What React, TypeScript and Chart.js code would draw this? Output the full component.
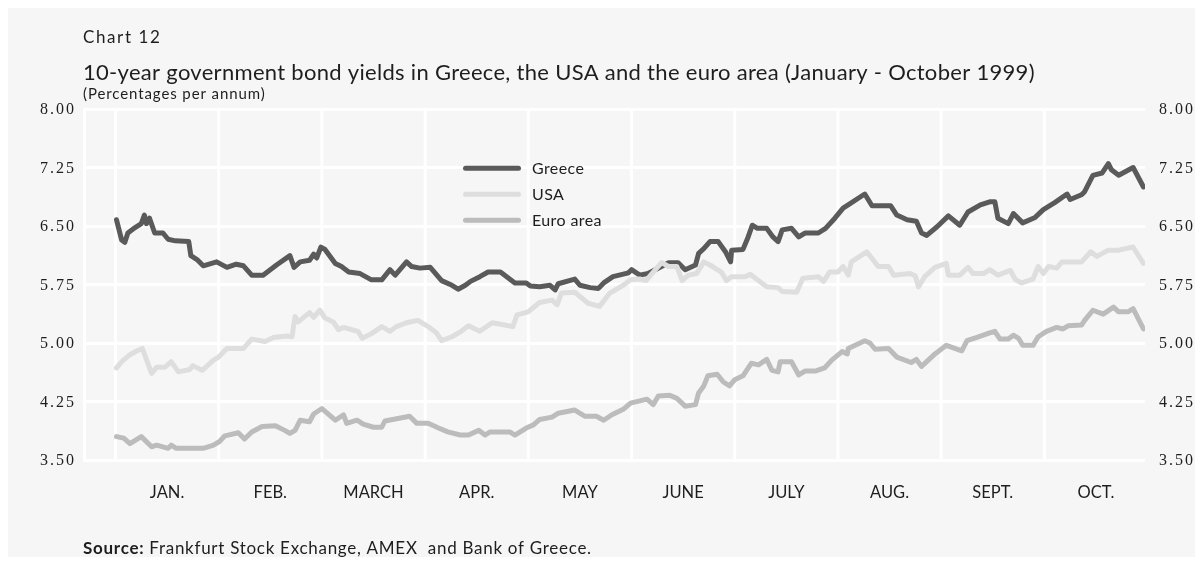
import { useEffect, useRef } from "react";
import { Chart, registerables } from "chart.js";

Chart.register(...registerables);

const months = ["JAN.", "FEB.", "MARCH", "APR.", "MAY", "JUNE", "JULY", "AUG.", "SEPT.", "OCT."];
const yTicks = [3.5, 4.25, 5, 5.75, 6.5, 7.25, 8];

// x = position in months (0 = start of January, 1 = start of February, ...)
const greeceX = [
  0.01, 0.06, 0.09, 0.12, 0.19, 0.25, 0.28, 0.30, 0.33, 0.38,
  0.46, 0.51, 0.58, 0.71, 0.73, 0.79, 0.85, 0.98, 1.08, 1.17,
  1.24, 1.32, 1.43, 1.56, 1.69, 1.73, 1.79, 1.88, 1.92, 1.95,
  1.99, 2.03, 2.13, 2.19, 2.26, 2.37, 2.48, 2.58, 2.66, 2.71,
  2.82, 2.87, 2.95, 3.05, 3.16, 3.26, 3.32, 3.39, 3.44, 3.53,
  3.61, 3.73, 3.87, 3.98, 4.02, 4.11, 4.21, 4.26, 4.29, 4.45,
  4.50, 4.60, 4.68, 4.73, 4.82, 4.97, 5.00, 5.08, 5.16, 5.29,
  5.36, 5.45, 5.52, 5.62, 5.65, 5.70, 5.76, 5.84, 5.91, 5.96,
  5.97, 6.08, 6.13, 6.17, 6.22, 6.31, 6.37, 6.42, 6.46, 6.55,
  6.62, 6.68, 6.81, 6.88, 6.97, 7.05, 7.11, 7.26, 7.33, 7.51,
  7.57, 7.67, 7.76, 7.81, 7.86, 7.96, 8.07, 8.18, 8.26, 8.38,
  8.47, 8.52, 8.55, 8.65, 8.70, 8.79, 8.91, 8.99, 9.10, 9.22,
  9.25, 9.36, 9.39, 9.47, 9.56, 9.62, 9.65, 9.72, 9.86, 9.96,
];
const greeceY = [
  6.58, 6.32, 6.29, 6.41, 6.48, 6.53, 6.64, 6.53, 6.60, 6.41,
  6.41, 6.33, 6.31, 6.30, 6.12, 6.07, 5.99, 6.04, 5.97, 6.01,
  5.99, 5.87, 5.87, 6.00, 6.12, 5.97, 6.04, 6.06, 6.14, 6.09,
  6.23, 6.20, 6.02, 5.98, 5.91, 5.89, 5.81, 5.81, 5.94, 5.87,
  6.04, 5.98, 5.96, 5.97, 5.80, 5.74, 5.69, 5.74, 5.79, 5.85,
  5.91, 5.91, 5.77, 5.77, 5.73, 5.72, 5.74, 5.68, 5.76, 5.82,
  5.74, 5.71, 5.70, 5.77, 5.85, 5.90, 5.94, 5.87, 5.89, 5.98,
  6.03, 6.03, 5.94, 6.00, 6.15, 6.21, 6.30, 6.30, 6.17, 6.04,
  6.19, 6.20, 6.36, 6.51, 6.47, 6.47, 6.36, 6.30, 6.45, 6.47,
  6.36, 6.41, 6.41, 6.47, 6.60, 6.73, 6.78, 6.91, 6.76, 6.76,
  6.64, 6.58, 6.56, 6.41, 6.38, 6.49, 6.63, 6.51, 6.68, 6.77,
  6.81, 6.81, 6.60, 6.53, 6.66, 6.54, 6.61, 6.71, 6.80, 6.91,
  6.84, 6.90, 6.94, 7.15, 7.18, 7.30, 7.22, 7.15, 7.25, 7.00,
];

const usaX = [
  0.01, 0.06, 0.14, 0.21, 0.26, 0.35, 0.40, 0.48, 0.54, 0.61,
  0.72, 0.75, 0.84, 0.95, 1.00, 1.08, 1.24, 1.32, 1.45, 1.53,
  1.66, 1.71, 1.74, 1.77, 1.88, 1.92, 1.98, 2.03, 2.11, 2.16,
  2.21, 2.29, 2.35, 2.39, 2.48, 2.58, 2.66, 2.72, 2.82, 2.93,
  3.03, 3.11, 3.16, 3.26, 3.35, 3.42, 3.53, 3.65, 3.77, 3.85,
  3.89, 4.00, 4.11, 4.23, 4.28, 4.32, 4.45, 4.58, 4.69, 4.79,
  4.92, 4.99, 5.08, 5.14, 5.29, 5.36, 5.44, 5.49, 5.55, 5.63,
  5.70, 5.76, 5.87, 5.92, 5.97, 6.10, 6.15, 6.20, 6.31, 6.42,
  6.46, 6.60, 6.66, 6.81, 6.86, 6.92, 7.00, 7.05, 7.10, 7.13,
  7.20, 7.28, 7.39, 7.49, 7.54, 7.70, 7.75, 7.78, 7.84, 7.94,
  8.05, 8.07, 8.18, 8.26, 8.31, 8.41, 8.47, 8.55, 8.67, 8.72,
  8.78, 8.89, 8.94, 8.99, 9.04, 9.12, 9.17, 9.36, 9.45, 9.51,
  9.62, 9.72, 9.86, 9.96,
];
const usaY = [
  4.68, 4.76, 4.85, 4.90, 4.93, 4.61, 4.69, 4.69, 4.76, 4.63,
  4.66, 4.71, 4.65, 4.78, 4.82, 4.93, 4.93, 5.05, 5.02, 5.07,
  5.09, 5.08, 5.34, 5.27, 5.39, 5.33, 5.42, 5.32, 5.27, 5.17,
  5.20, 5.17, 5.15, 5.06, 5.12, 5.21, 5.15, 5.21, 5.26, 5.29,
  5.21, 5.13, 5.03, 5.08, 5.15, 5.22, 5.15, 5.26, 5.23, 5.21,
  5.36, 5.40, 5.52, 5.55, 5.49, 5.64, 5.65, 5.51, 5.47, 5.64,
  5.74, 5.81, 5.82, 5.80, 6.03, 5.98, 5.98, 5.80, 5.87, 5.89,
  6.04, 6.00, 5.91, 5.80, 5.85, 5.85, 5.88, 5.83, 5.72, 5.71,
  5.66, 5.65, 5.83, 5.85, 5.79, 5.91, 5.91, 5.98, 5.87, 6.04,
  6.10, 6.17, 5.98, 5.98, 5.87, 5.89, 5.86, 5.72, 5.85, 5.97,
  6.02, 5.87, 5.87, 5.97, 5.89, 5.89, 5.94, 5.87, 5.93, 5.81,
  5.77, 5.82, 5.98, 5.89, 5.98, 5.96, 6.04, 6.04, 6.17, 6.11,
  6.19, 6.19, 6.23, 6.02,
];

const euroX = [
  0.01, 0.08, 0.14, 0.25, 0.35, 0.40, 0.51, 0.54, 0.59, 0.85,
  0.95, 1.01, 1.06, 1.19, 1.25, 1.32, 1.42, 1.55, 1.64, 1.69,
  1.74, 1.79, 1.88, 1.92, 2.00, 2.13, 2.21, 2.24, 2.34, 2.40,
  2.50, 2.58, 2.61, 2.85, 2.92, 3.03, 3.13, 3.22, 3.34, 3.42,
  3.52, 3.58, 3.63, 3.82, 3.87, 3.98, 4.05, 4.11, 4.23, 4.29,
  4.45, 4.55, 4.66, 4.73, 4.81, 4.92, 4.99, 5.15, 5.21, 5.26,
  5.37, 5.44, 5.52, 5.62, 5.65, 5.70, 5.74, 5.83, 5.89, 5.95,
  6.00, 6.08, 6.16, 6.23, 6.31, 6.36, 6.42, 6.44, 6.55, 6.62,
  6.68, 6.78, 6.87, 6.94, 7.04, 7.09, 7.10, 7.26, 7.31, 7.36,
  7.49, 7.57, 7.71, 7.76, 7.81, 7.94, 8.05, 8.20, 8.25, 8.34,
  8.47, 8.52, 8.57, 8.65, 8.70, 8.75, 8.79, 8.89, 8.94, 9.02,
  9.12, 9.18, 9.23, 9.36, 9.39, 9.47, 9.57, 9.67, 9.72, 9.81,
  9.86, 9.96,
];
const euroY = [
  3.80, 3.78, 3.71, 3.80, 3.67, 3.69, 3.65, 3.69, 3.65, 3.65,
  3.69, 3.74, 3.81, 3.85, 3.77, 3.86, 3.93, 3.94, 3.88, 3.84,
  3.88, 4.01, 3.99, 4.09, 4.16, 4.01, 4.08, 3.97, 4.01, 3.96,
  3.92, 3.92, 4.00, 4.06, 3.97, 3.97, 3.91, 3.86, 3.82, 3.82,
  3.88, 3.82, 3.86, 3.86, 3.82, 3.91, 3.95, 4.02, 4.05, 4.10,
  4.14, 4.06, 4.06, 4.01, 4.08, 4.15, 4.23, 4.28, 4.21, 4.32,
  4.33, 4.29, 4.19, 4.21, 4.36, 4.45, 4.58, 4.60, 4.50, 4.45,
  4.53, 4.58, 4.74, 4.72, 4.79, 4.65, 4.63, 4.76, 4.76, 4.59,
  4.64, 4.64, 4.68, 4.78, 4.89, 4.86, 4.93, 5.03, 5.00, 4.92,
  4.93, 4.82, 4.75, 4.79, 4.70, 4.86, 4.97, 4.90, 5.03, 5.07,
  5.13, 5.15, 5.05, 5.05, 5.10, 5.06, 4.97, 4.97, 5.08, 5.15,
  5.20, 5.18, 5.22, 5.23, 5.29, 5.42, 5.37, 5.46, 5.40, 5.40,
  5.44, 5.18,
];

const seriesNames = ["Greece", "USA", "Euro area"];
const seriesColors = ["#5a5a5a", "#dedede", "#bcbcbc"];

const BG = "#f6f6f6";
const TEXT = "#1e1e1e";
const SANS = "Lato, 'Open Sans', sans-serif";
const SERIF = "'Liberation Serif', 'DejaVu Serif', serif";

const toPoints = (xs: number[], ys: number[]) => xs.map((x, i) => ({ x, y: ys[i] }));

const monthGridPlugin = {
  id: "monthGrid",
  beforeDatasetsDraw(chart: any) {
    const { ctx, chartArea, scales } = chart;
    const xs = scales.x;
    ctx.save();
    ctx.strokeStyle = "#ffffff";
    ctx.lineWidth = 3;
    for (let i = 0; i <= months.length; i++) {
      const px = xs.getPixelForValue(i);
      if (px < chartArea.left || px > chartArea.right) continue;
      ctx.beginPath();
      ctx.moveTo(px, chartArea.top);
      ctx.lineTo(px, chartArea.bottom);
      ctx.stroke();
    }
    ctx.restore();
  },
};

// y tick labels on both sides (letter-spaced serif)
const yLabelPlugin = {
  id: "yLabels",
  afterDraw(chart: any) {
    const { ctx, chartArea, scales } = chart;
    const ys = scales.y;
    ctx.save();
    ctx.fillStyle = TEXT;
    ctx.font = `16px ${SERIF}`;
    (ctx as any).letterSpacing = "2px";
    ctx.textBaseline = "middle";
    yTicks.forEach((v) => {
      const py = ys.getPixelForValue(v) + 1;
      const label = v.toFixed(2);
      const w = ctx.measureText(label).width - 2;
      ctx.textAlign = "left";
      ctx.fillText(label, chartArea.left - 10 - w, py);
      ctx.fillText(label, chartArea.right + 14, py);
    });
    ctx.restore();
  },
};

const legendPlugin = {
  id: "insideLegend",
  afterDatasetsDraw(chart: any) {
    const { ctx } = chart;
    ctx.save();
    ctx.lineCap = "round";
    ctx.lineWidth = 5;
    ctx.font = `16px ${SANS}`;
    (ctx as any).letterSpacing = "0.4px";
    ctx.textBaseline = "middle";
    ctx.fillStyle = TEXT;
    chart.data.datasets.forEach((ds: any, i: number) => {
      const y = 160.3 + i * 26;
      ctx.strokeStyle = ds.borderColor;
      ctx.beginPath();
      ctx.moveTo(457.5, y);
      ctx.lineTo(510.5, y);
      ctx.stroke();
      ctx.fillText(ds.label, 524, y + 1);
    });
    ctx.restore();
  },
};

const textPlugin = {
  id: "texts",
  afterDraw(chart: any) {
    const { ctx } = chart;
    ctx.save();
    ctx.fillStyle = TEXT;
    ctx.textBaseline = "alphabetic";
    ctx.textAlign = "left";
    const c = ctx as any;

    ctx.font = `17px ${SANS}`;
    c.letterSpacing = "1.6px";
    ctx.fillText("Chart 12", 75, 35);

    ctx.font = `22px ${SANS}`;
    c.letterSpacing = "0.3px";
    ctx.fillText(
      "10-year government bond yields in Greece, the USA and the euro area (January - October 1999)",
      75,
      71.5
    );

    ctx.font = `15px ${SANS}`;
    c.letterSpacing = "0.9px";
    ctx.fillText("(Percentages per annum)", 75, 91);

    c.letterSpacing = "0.72px";
    ctx.font = `bold 17px ${SANS}`;
    const lead = "Source:";
    ctx.fillText(lead, 75, 546);
    const w = ctx.measureText(lead).width;
    ctx.font = `17px ${SANS}`;
    ctx.fillText(" Frankfurt Stock Exchange, AMEX  and Bank of Greece.", 75 + w, 546);
    ctx.restore();
  },
};

export default function App() {
  const ref = useRef<HTMLCanvasElement | null>(null);

  useEffect(() => {
    if (!ref.current) return;
    const xs = [greeceX, usaX, euroX];
    const ys = [greeceY, usaY, euroY];
    const drawOrder = [3, 1, 2];
    const chart = new Chart(ref.current, {
      type: "line",
      data: {
        datasets: seriesNames.map((name, i) => ({
          label: name,
          data: toPoints(xs[i], ys[i]),
          borderColor: seriesColors[i],
          backgroundColor: seriesColors[i],
          borderWidth: 5,
          pointRadius: 0,
          tension: 0,
          borderJoinStyle: "round" as const,
          borderCapStyle: "round" as const,
          yAxisID: "y",
          order: drawOrder[i],
        })),
      },
      options: {
        responsive: false,
        animation: false,
        layout: { padding: { top: 101, left: 0, right: 50, bottom: 0 } },
        plugins: {
          legend: { display: false },
          tooltip: { enabled: false },
          title: { display: false },
        },
        scales: {
          x: {
            type: "linear",
            min: -0.305,
            max: 9.975,
            afterBuildTicks: (scale: any) => {
              scale.ticks = months.map((_, i) => ({ value: i + 0.5 }));
            },
            afterFit: (scale: any) => {
              scale.height = 97;
            },
            grid: { display: false },
            border: { display: false },
            ticks: {
              autoSkip: false,
              maxRotation: 0,
              padding: 15,
              color: TEXT,
              font: { family: SANS, size: 16.5 },
              callback: (v: any) => months[Math.floor(Number(v))] ?? "",
            },
          },
          y: {
            type: "linear",
            position: "left",
            min: 3.5,
            max: 8,
            afterBuildTicks: (scale: any) => {
              scale.ticks = yTicks.map((v) => ({ value: v }));
            },
            afterFit: (scale: any) => {
              scale.width = 76;
            },
            grid: { color: "#ffffff", lineWidth: 3, drawTicks: false },
            border: { display: true, color: "#ffffff", width: 3 },
            ticks: { display: false },
          },
        },
      },
      plugins: [monthGridPlugin, legendPlugin, yLabelPlugin, textPlugin],
    } as any);
    return () => chart.destroy();
  }, []);

  return (
    <div style={{ width: 1187, height: 549, background: BG }}>
      <canvas ref={ref} width={1187} height={549} style={{ display: "block", width: 1187, height: 549 }} />
    </div>
  );
}
